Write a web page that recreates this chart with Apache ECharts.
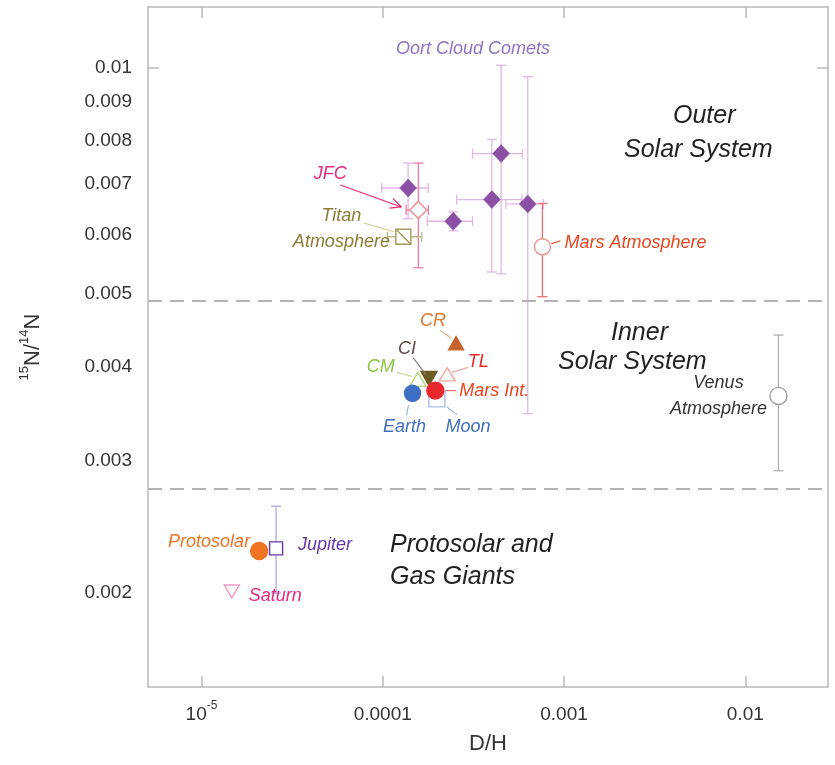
<!DOCTYPE html>
<html>
<head>
<meta charset="utf-8">
<script src="https://cdn.jsdelivr.net/npm/echarts@6/dist/echarts.min.js"></script>
<style>
html,body{margin:0;padding:0;background:#fff;}
#chart{width:835px;height:765px;}
</style>
</head>
<body>
<div id="chart"></div>
<script>
// ---------- axis ranges and tick labels ----------
const xRange = [5.07e-6, 0.0286];
const yRange = [0.0015, 0.01205];
const xTickValues = [1e-5, 1e-4, 1e-3, 1e-2];
const xTickLabels = ['10^-5', '0.0001', '0.001', '0.01'];
const yTickValues = [0.002, 0.003, 0.004, 0.005, 0.006, 0.007, 0.008, 0.009, 0.01];
const yTickLabels = ['0.002', '0.003', '0.004', '0.005', '0.006', '0.007', '0.008', '0.009', '0.01'];
const yMajorTicks = [0.01];
const regionBoundaries = [0.00485, 0.002767];

// ---------- Oort cloud comets ----------
const oortDH     = [1.38e-4, 2.45e-4, 4.50e-4, 4.00e-4, 6.31e-4];
const oortN      = [0.00692, 0.00625, 0.00769, 0.00668, 0.00659];
const oortDHLow  = [9.87e-5, 1.76e-4, 3.13e-4, 2.56e-4, 4.78e-4];
const oortDHHigh = [1.78e-4, 3.13e-4, 5.89e-4, 5.85e-4, 7.69e-4];
const oortNLow   = [0.0063, 0.00607, 0.00532, 0.00535, 0.003467];
const oortNHigh  = [0.00747, 0.00643, 0.01008, 0.00803, 0.00973];

// ---------- individual objects ----------
const objectNames = ['JFC', 'Titan Atmosphere', 'Mars Atmosphere', 'CR', 'CI', 'CM', 'TL',
                     'Mars Int.', 'Earth', 'Moon', 'Venus Atmosphere', 'Protosolar', 'Jupiter', 'Saturn'];
const objectDH = [1.572e-4, 1.30e-4, 7.60e-4, 2.54e-4, 1.80e-4, 1.56e-4, 2.27e-4,
                  1.95e-4, 1.46e-4, 1.99e-4, 0.01524, 2.08e-5, 2.58e-5, 1.47e-5];
const objectN  = [0.00647, 0.00596, 0.00578, 0.00430, 0.00386, 0.00385, 0.00391,
                  0.00372, 0.00369, 0.003627, 0.00366, 0.002275, 0.002294, 0.00201];
// error ranges (null = none)
const objectDHLow  = [1.345e-4, 1.06e-4, null, null, null, null, null, null, null, null, null, null, null, null];
const objectDHHigh = [1.785e-4, 1.64e-4, null, null, null, null, null, null, null, null, null, null, null, null];
const objectNLow   = [0.00542, null, 0.00496, null, null, null, null, null, null, null, 0.00291, null, 0.0020, null];
const objectNHigh  = [0.00747, null, 0.0066, null, null, null, null, null, null, null, 0.00441, null, 0.00261, null];

// ---------- styling ----------
const FONT = 'Liberation Sans, Arial, Helvetica, sans-serif';
const lg = Math.log10;
const AXIS_COLOR = '#b9b9b9';

const objectStyle = {
  'JFC':              {symbol: 'diamond', size: [17, 17], fill: '#ffffff', stroke: '#f08a90', bar: '#f27a9c'},
  'Titan Atmosphere': {symbol: 'path://M0,0L10,0L10,10L0,10Z M0,0L10,10', size: 15, fill: '#ffffff', stroke: '#a59a5a', bar: '#c2b685'},
  'Mars Atmosphere':  {symbol: 'circle', size: 16, fill: '#ffffff', stroke: '#f29090', bar: '#f07070'},
  'CR':               {symbol: 'triangle', size: [15, 13], fill: '#c5622c', stroke: '#c5622c'},
  'CI':               {symbol: 'path://M0,0L10,0L5,9Z', size: [16, 14], fill: '#6e5b23', stroke: '#6e5b23'},
  'CM':               {symbol: 'triangle', size: [16, 14], fill: '#ffffff', stroke: '#b6d67a'},
  'TL':               {symbol: 'triangle', size: [16, 13], fill: '#ffffff', stroke: '#f4a6a0'},
  'Mars Int.':        {symbol: 'circle', size: 17, fill: '#e8282c', stroke: '#e8282c'},
  'Earth':            {symbol: 'circle', size: 16, fill: '#3f6fc2', stroke: '#3f6fc2'},
  'Moon':             {symbol: 'rect', size: 16, fill: '#ffffff', stroke: '#a9c1e8'},
  'Venus Atmosphere': {symbol: 'circle', size: 17, fill: '#ffffff', stroke: '#a0a0a0', bar: '#b0b0b0'},
  'Protosolar':       {symbol: 'circle', size: 17, fill: '#f07324', stroke: '#f07324'},
  'Jupiter':          {symbol: 'rect', size: 13, fill: '#ffffff', stroke: '#6536a8', bar: '#bba4df'},
  'Saturn':           {symbol: 'path://M0,0L10,0L5,9Z', size: [15, 13], fill: '#ffffff', stroke: '#f29ac4'}
};

// annotation layout: offsets (px) relative to the marker
const annotations = {
  'JFC':              {text: 'JFC', color: '#e8287c', dx: -88, dy: -36, align: 'center', line: [-78, -25, -17, -3], arrow: true},
  'Titan Atmosphere': {text: 'Titan\nAtmosphere', color: '#8a7d33', dx: -62, dy: -8, align: 'center', line: [-40, -14, -10, -5], lineColor: '#d4cc98'},
  'Mars Atmosphere':  {text: 'Mars Atmosphere', color: '#e8461e', dx: 22, dy: -4, align: 'left', line: [9, -3, 18, -6]},
  'CR':               {text: 'CR', color: '#e0782e', dx: -23, dy: -22, align: 'center', line: [-16, -13, -5, -5], lineColor: '#eab08a'},
  'CI':               {text: 'CI', color: '#5b4a4a', dx: -22, dy: -30, align: 'center', line: [-16, -21, -3, -4], lineColor: '#8a7a7a'},
  'CM':               {text: 'CM', color: '#8cc63f', dx: -37, dy: -12, align: 'center', line: [-21, -7, -6, -3], lineColor: '#c4de98'},
  'TL':               {text: 'TL', color: '#e82828', dx: 31, dy: -12, align: 'center', line: [21, -7, 5, -2], lineColor: '#f4a6a0'},
  'Mars Int.':        {text: 'Mars Int.', color: '#e8461e', dx: 24, dy: 0, align: 'left', line: [10, 0, 21, 0], lineColor: '#f07070'},
  'Earth':            {text: 'Earth', color: '#3f6fc2', dx: -8, dy: 34, align: 'center', line: [-4, 12, -6, 22], lineColor: '#9bb4e0'},
  'Moon':             {text: 'Moon', color: '#3f6fc2', dx: 31, dy: 28, align: 'center', line: [10, 8, 20, 16], lineColor: '#9bb4e0'},
  'Venus Atmosphere': {text: 'Venus\nAtmosphere', color: '#333333', dx: -60, dy: 0, align: 'center'},
  'Protosolar':       {text: 'Protosolar', color: '#f07324', dx: -9, dy: -9, align: 'right'},
  'Jupiter':          {text: 'Jupiter', color: '#6536a8', dx: 22, dy: -3, align: 'left'},
  'Saturn':           {text: 'Saturn', color: '#e6287e', dx: 17, dy: 5, align: 'left'}
};

const regionTexts = [
  {text: 'Outer', x: 673, y: 116},
  {text: 'Solar System', x: 624, y: 150},
  {text: 'Inner', x: 611, y: 333},
  {text: 'Solar System', x: 558, y: 362},
  {text: 'Protosolar and', x: 390, y: 545},
  {text: 'Gas Giants', x: 390, y: 577}
];

// ---------- build series ----------
function errorRenderItem(capHalf) {
  return function (params, api) {
    const x = api.value(0), y = api.value(1);
    const children = [];
    const c = api.coord([x, y]);
    const col = api.visual('color');
    const style = {stroke: col, lineWidth: 1.3, fill: null};
    if (!isNaN(api.value(2)) && !isNaN(api.value(3))) {
      const l = api.coord([api.value(2), y]), r = api.coord([api.value(3), y]);
      children.push({type: 'line', shape: {x1: l[0], y1: c[1], x2: r[0], y2: c[1]}, style});
      children.push({type: 'line', shape: {x1: l[0], y1: c[1] - capHalf, x2: l[0], y2: c[1] + capHalf}, style});
      children.push({type: 'line', shape: {x1: r[0], y1: c[1] - capHalf, x2: r[0], y2: c[1] + capHalf}, style});
    }
    if (!isNaN(api.value(4)) && !isNaN(api.value(5))) {
      const lo = api.coord([x, api.value(4)]), hi = api.coord([x, api.value(5)]);
      children.push({type: 'line', shape: {x1: c[0], y1: lo[1], x2: c[0], y2: hi[1]}, style});
      children.push({type: 'line', shape: {x1: c[0] - capHalf, y1: lo[1], x2: c[0] + capHalf, y2: lo[1]}, style});
      children.push({type: 'line', shape: {x1: c[0] - capHalf, y1: hi[1], x2: c[0] + capHalf, y2: hi[1]}, style});
    }
    return {type: 'group', children};
  };
}
const lgOrNaN = v => (v == null ? NaN : lg(v));

const series = [];

// Oort cloud error bars
series.push({
  type: 'custom', name: 'Oort Cloud Comets error', z: 1, silent: true,
  itemStyle: {color: '#e2b6e4'},
  renderItem: errorRenderItem(5),
  encode: {x: 0, y: 1},
  data: oortDH.map((d, i) => [lg(d), lg(oortN[i]), lg(oortDHLow[i]), lg(oortDHHigh[i]), lg(oortNLow[i]), lg(oortNHigh[i])])
});

// object error bars
objectNames.forEach((name, i) => {
  const st = objectStyle[name];
  if (!st.bar) return;
  series.push({
    type: 'custom', name: name + ' error', z: 1, silent: true,
    itemStyle: {color: st.bar},
    renderItem: errorRenderItem(5),
    encode: {x: 0, y: 1},
    data: [[lg(objectDH[i]), lg(objectN[i]), lgOrNaN(objectDHLow[i]), lgOrNaN(objectDHHigh[i]), lgOrNaN(objectNLow[i]), lgOrNaN(objectNHigh[i])]]
  });
});

// Oort cloud comets markers
series.push({
  type: 'scatter', name: 'Oort Cloud Comets', z: 3,
  symbol: 'diamond', symbolSize: [17, 18],
  itemStyle: {color: '#8c4fa6', borderColor: '#8c4fa6', borderWidth: 0.5, opacity: 1},
  data: oortDH.map((d, i) => [lg(d), lg(oortN[i])])
});

// object markers (drawing order chosen so overlaps match)
const drawOrder = ['Titan Atmosphere', 'JFC', 'Mars Atmosphere', 'Moon', 'CM', 'CI', 'TL', 'CR', 'Earth', 'Mars Int.',
                   'Venus Atmosphere', 'Saturn', 'Protosolar', 'Jupiter'];
drawOrder.forEach((name) => {
  const i = objectNames.indexOf(name);
  const st = objectStyle[name];
  series.push({
    type: 'scatter', name: name, z: 3,
    symbol: st.symbol, symbolSize: st.size,
    itemStyle: {color: st.fill, borderColor: st.stroke, borderWidth: 1.4, opacity: 1},
    data: [[lg(objectDH[i]), lg(objectN[i])]]
  });
});

// annotation texts and connector lines
const annNames = Object.keys(annotations);
series.push({
  type: 'custom', name: 'annotations', z: 5, silent: true,
  encode: {x: 0, y: 1},
  renderItem: function (params, api) {
    const a = annotations[annNames[params.dataIndex]];
    const c = api.coord([api.value(0), api.value(1)]);
    const children = [];
    if (a.line) {
      const lc = a.lineColor || a.color;
      const [x1, y1, x2, y2] = a.line;
      children.push({type: 'line', shape: {x1: c[0] + x1, y1: c[1] + y1, x2: c[0] + x2, y2: c[1] + y2},
        style: {stroke: lc, lineWidth: 1.2}});
      if (a.arrow) {
        const ang = Math.atan2(y2 - y1, x2 - x1);
        const L = 12, spread = 0.45;
        [ang + Math.PI - spread, ang + Math.PI + spread].forEach(t => {
          children.push({type: 'line', shape: {x1: c[0] + x2, y1: c[1] + y2,
            x2: c[0] + x2 + L * Math.cos(t), y2: c[1] + y2 + L * Math.sin(t)},
            style: {stroke: lc, lineWidth: 1.2}});
        });
      }
    }
    children.push({type: 'text', x: c[0] + a.dx, y: c[1] + a.dy,
      style: {text: a.text, fill: a.color, fontSize: 18, fontStyle: 'italic', fontFamily: FONT,
        align: a.align, verticalAlign: 'middle', lineHeight: 26}});
    return {type: 'group', children};
  },
  data: annNames.map(n => {
    const i = objectNames.indexOf(n);
    return [lg(objectDH[i]), lg(objectN[i])];
  })
});

// region boundary dashed lines
series.push({
  type: 'line', name: 'boundaries', data: [], silent: true,
  markLine: {
    silent: true, symbol: ['none', 'none'], label: {show: false},
    lineStyle: {color: '#b3b3b3', type: [14, 8], width: 2},
    data: regionBoundaries.map(v => ({yAxis: lg(v)}))
  }
});

function xLabel(v) {
  const i = xTickValues.findIndex(t => Math.abs(lg(t) - v) < 1e-6);
  const s = i >= 0 ? xTickLabels[i] : '';
  const m = s.match(/^(.*)\^(.*)$/);
  return m ? '{base|' + m[1] + '}{sup|' + m[2] + '}' : '{base|' + s + '}';
}
function yLabel(v) {
  const i = yTickValues.findIndex(t => Math.abs(lg(t) - v) < 1e-6);
  return i >= 0 ? yTickLabels[i] : '';
}

const axisLineStyle = {color: AXIS_COLOR, width: 1.5};
const option = {
  animation: false,
  backgroundColor: '#ffffff',
  grid: {left: 148, top: 7, width: 680, height: 680, containLabel: false, outerBoundsMode: 'none'},
  xAxis: [{
    type: 'value', min: lg(xRange[0]), max: lg(xRange[1]), position: 'bottom',
    name: 'D/H', nameLocation: 'middle', nameGap: 46,
    nameTextStyle: {fontSize: 22, color: '#333', fontFamily: FONT},
    axisLine: {show: true, onZero: false, lineStyle: axisLineStyle},
    axisTick: {show: true, inside: true, length: 11, customValues: xTickValues.map(lg), lineStyle: axisLineStyle},
    axisLabel: {show: true, customValues: xTickValues.map(lg), margin: 13, formatter: xLabel,
      rich: {base: {fontSize: 19, color: '#333', fontFamily: FONT, lineHeight: 24, verticalAlign: 'bottom'},
             sup: {fontSize: 12, color: '#333', fontFamily: FONT, lineHeight: 24, verticalAlign: 'top'}}},
    splitLine: {show: false}
  }, {
    type: 'value', min: lg(xRange[0]), max: lg(xRange[1]), position: 'top',
    axisLine: {show: true, onZero: false, lineStyle: axisLineStyle},
    axisTick: {show: true, inside: true, length: 11, customValues: xTickValues.map(lg), lineStyle: axisLineStyle},
    axisLabel: {show: false}, splitLine: {show: false}
  }],
  yAxis: [{
    type: 'value', min: lg(yRange[0]), max: lg(yRange[1]), position: 'left',
    name: '{sup|15}{base|N/}{sup|14}{base|N}', nameLocation: 'middle', nameGap: 104,
    nameTextStyle: {rich: {
      base: {fontSize: 22, color: '#333', fontFamily: FONT, lineHeight: 26, verticalAlign: 'bottom'},
      sup: {fontSize: 13, color: '#333', fontFamily: FONT, lineHeight: 26, verticalAlign: 'top'}}},
    axisLine: {show: true, onZero: false, lineStyle: axisLineStyle},
    axisTick: {show: true, inside: true, length: 11, customValues: yMajorTicks.map(lg), lineStyle: axisLineStyle},
    axisLabel: {show: true, customValues: yTickValues.map(lg), margin: 16, formatter: yLabel,
      fontSize: 19, color: '#333', fontFamily: FONT},
    splitLine: {show: false}
  }, {
    type: 'value', min: lg(yRange[0]), max: lg(yRange[1]), position: 'right',
    axisLine: {show: true, onZero: false, lineStyle: axisLineStyle},
    axisTick: {show: true, inside: true, length: 11, customValues: yMajorTicks.map(lg), lineStyle: axisLineStyle},
    axisLabel: {show: false}, splitLine: {show: false}
  }],
  graphic: [
    {type: 'text', x: 473, y: 49, style: {text: 'Oort Cloud Comets', fill: '#8f72c4', fontSize: 18, fontStyle: 'italic',
      fontFamily: FONT, align: 'center', verticalAlign: 'middle'}}
  ].concat(regionTexts.map(r => ({type: 'text', x: r.x, y: r.y,
      style: {text: r.text, fill: '#222', fontSize: 25, fontStyle: 'italic', fontFamily: FONT,
        align: 'left', verticalAlign: 'middle'}}))),
  series: series
};

const chart = echarts.init(document.getElementById('chart'), null, {renderer: 'canvas'});
chart.setOption(option);
</script>
</body>
</html>
